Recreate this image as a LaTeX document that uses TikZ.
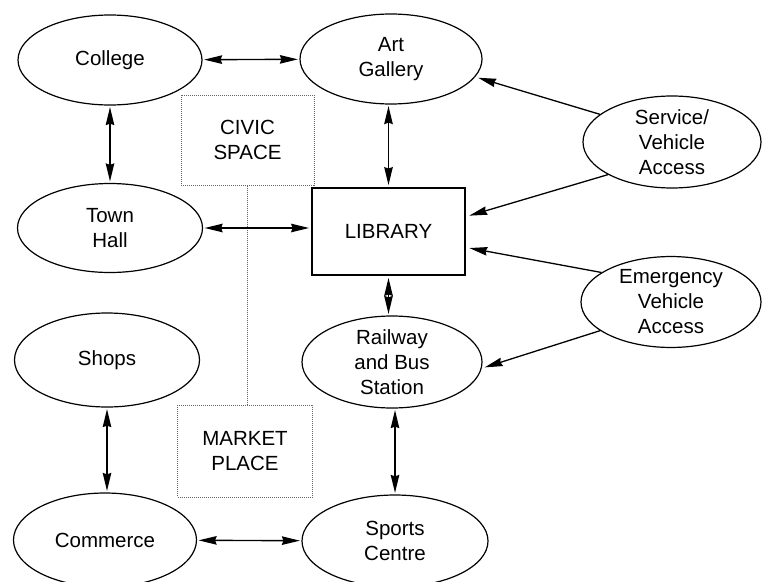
\documentclass[tikz,border=0pt]{standalone}
\usepackage{fontspec}
\setmainfont{Liberation Sans}
\usetikzlibrary{shapes.geometric,arrows.meta}
\begin{document}
\begin{tikzpicture}[x=1pt,y=-1pt,
  txt/.style={font=\fontsize{20.5}{25}\selectfont},
  place/.style={txt,ellipse,draw,line width=1.2pt,inner sep=0pt,
    minimum width=184pt,minimum height=90pt,align=center},
  zone/.style={txt,rectangle,draw=black!60,densely dotted,line width=1pt,
    inner sep=0pt,align=center},
  hub/.style={txt,rectangle,draw,line width=2.8pt,inner sep=0pt,
    minimum width=153pt,minimum height=87pt},
  head/.tip={Stealth[length=18pt,width=8.5pt,inset=1.5pt]},
  both/.style={line width=1.4pt,head-head,shorten >=1.5pt,shorten <=1.5pt},
  one/.style={line width=1.3pt,-head,shorten >=3pt},
  link/.style={draw=black!60,densely dotted,line width=1pt}
]
\useasboundingbox (0,0) rectangle (762,581);

% places
\node[place] (college)  at (110,60)  {College};
\node[place,minimum width=182pt] (art) at (391,59) {Art\\Gallery};
\node[place,minimum width=185pt,minimum height=89pt] (town) at (110,228) {Town\\Hall};
\node[place,minimum width=185pt,minimum height=94pt] (shops) at (107,360) {Shops};
\node[place,minimum width=183pt,minimum height=94pt] (commerce) at (105,540) {Commerce};
\node[place,minimum width=180pt,minimum height=91pt] (rail) at (392,362) {Railway\\and Bus\\Station};
\node[place,minimum width=186pt,minimum height=92pt] (sports) at (395,541) {Sports\\Centre};
\node[place,minimum width=178pt,minimum height=90pt] (svc) at (672,142) {Service/\\Vehicle\\Access};
\node[place,minimum width=180pt,minimum height=89pt] (emg) at (671,302) {Emergency\\Vehicle\\Access};

% central library
\node[hub] (lib) at (388.5,231.5) {LIBRARY};

% open spaces
\node[zone,minimum width=133pt,minimum height=90pt] (civic) at (247.5,140) {CIVIC\\SPACE};
\node[zone,minimum width=135pt,minimum height=92pt] (market) at (245,451) {MARKET\\PLACE};
\draw[link] (civic.south) -- (civic.south |- market.north);

% two-way links
\draw[both] (college) -- (art);
\draw[both] (college) -- (town);
\draw[both] (art.south -| lib.north) -- (lib.north);
\draw[both] (town.east) -- (town.east -| lib.west);
\draw[both] (lib.south) -- (lib.south |- rail.north);
\draw[both] (shops.south) -- (shops.south |- commerce.north);
\draw[both] (sports.north |- rail.south) -- (sports.north);
\draw[both] (commerce) -- (sports);

% vehicle access
\draw[one] (svc.159) -- (art.-12);
\draw[one] (svc.207) -- ([yshift=15pt]lib.east);
\draw[one] (emg.157) -- ([yshift=-16pt]lib.east);
\draw[one] (emg.202) -- (rail.-4);
\end{tikzpicture}
\end{document}
